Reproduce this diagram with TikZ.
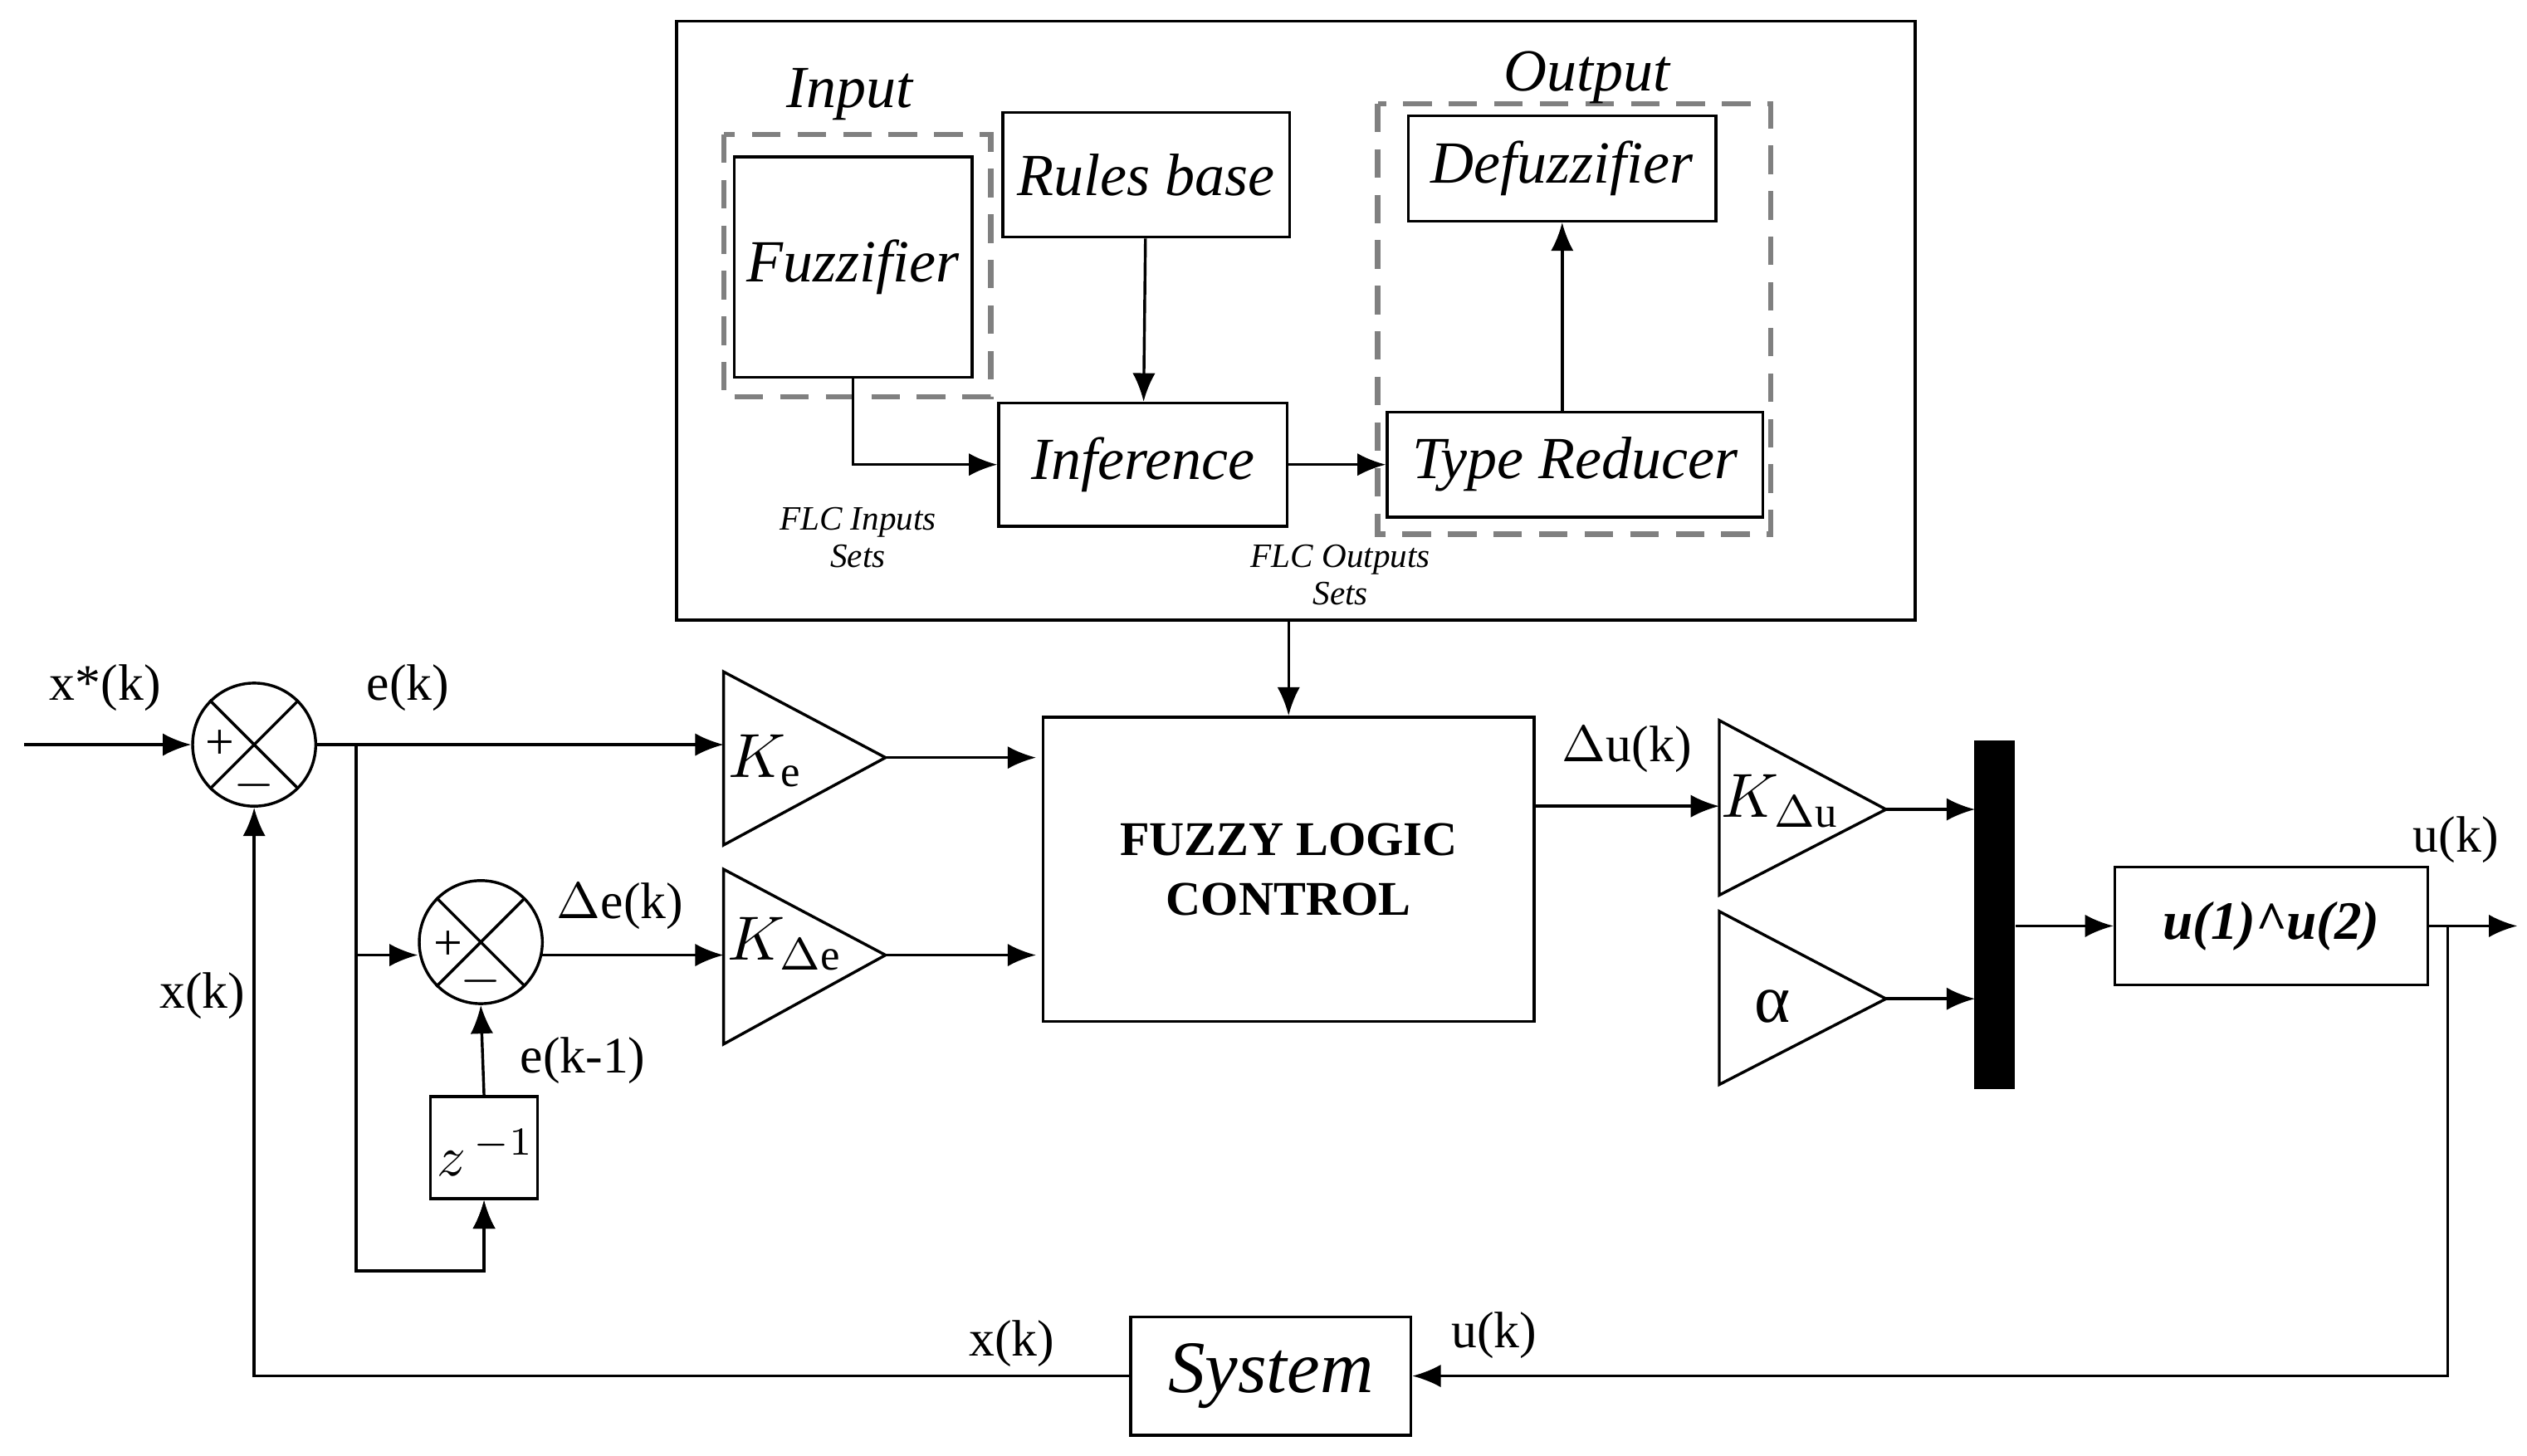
\documentclass[tikz,border=0pt]{standalone}
\usepackage{fontspec}
\setmainfont{Liberation Serif}
\usetikzlibrary{arrows.meta,calc}
\begin{document}
\begin{tikzpicture}[x=0.01cm,y=-0.01cm,>={Latex[length=5pt,width=4pt]},line width=0.5pt]
 \tikzset{blk/.style={draw,inner sep=0pt},
  lbl/.style={font=\fontsize{9}{10}\selectfont},
  itl/.style={font=\fontsize{10.5}{11}\selectfont\itshape},
  tiny/.style={font=\fontsize{6}{6.5}\selectfont\itshape,align=center},
  dsh/.style={draw=gray,dashed,line width=0.9pt,dash pattern=on 5pt off 3pt}}
 \useasboundingbox (0,0) rectangle (1561,899);

  % Fuzzy controller internals
  \draw (418,13) rectangle (1183,383);
  \draw[dsh] (447,83) rectangle (612,245);
  \draw[dsh] (851,64) rectangle (1094,330);
  \node[itl] at (525,58) {Input};
  \node[itl] at (980,48) {Output};
  \node[blk,itl,minimum width=1.47cm,minimum height=1.36cm] (fuz) at (527,165) {Fuzzifier};
  \node[blk,itl,minimum width=1.77cm,minimum height=0.77cm] (rul) at (708,108) {Rules base};
  \node[blk,itl,minimum width=1.78cm,minimum height=0.76cm] (inf) at (706,287) {Inference};
  \node[blk,itl,minimum width=1.90cm,minimum height=0.65cm] (def) at (965,104) {Defuzzifier};
  \node[blk,itl,minimum width=2.32cm,minimum height=0.65cm] (typ) at (973,287) {Type Reducer};
  \draw[->] (fuz.south) |- (inf.west);
  \draw[->] (rul) -- (inf);
  \draw[->] (inf) -- (typ);
  \draw[->] (typ.north -| def) -- (def);
  \node[tiny] at (530,332) {FLC Inputs\\Sets};
  \node[tiny] at (828,355) {FLC Outputs\\Sets};

  % Main loop
  \node[blk,minimum width=3.03cm,minimum height=1.88cm,align=center,font=\fontsize{8.5}{10.5}\selectfont\bfseries] (flc) at (796,537) {FUZZY LOGIC\\CONTROL};
  \draw[->] (796,383) -- (flc.north);

  \node[draw,circle,minimum size=0.76cm] (s1) at (157,460) {};
  \draw (s1.north west) -- (s1.south east) (s1.north east) -- (s1.south west);
  \node[lbl] at (136,460) {+};
  \node[lbl] at (157,485) {$-$};
  \node[draw,circle,minimum size=0.76cm] (s2) at (297,582) {};
  \draw (s2.north west) -- (s2.south east) (s2.north east) -- (s2.south west);
  \node[lbl] at (277,584) {+};
  \node[lbl] at (297,606) {$-$};

  \coordinate (in) at (15,460);
  \draw[->] (in) -- (s1);
  \node[lbl] at (65,425) {x*(k)};
  \node[lbl] at (252,425) {e(k)};

  % gains
  \draw (447,415) coordinate (ke) -- (447,522) -- (547,468) coordinate (keo) -- cycle;
  \draw (447,537) coordinate (kde) -- (447,645) -- (547,590) coordinate (kdeo) -- cycle;
  \draw (1062,445) coordinate (kdu) -- (1062,553) -- (1165,500) coordinate (kduo) -- cycle;
  \draw (1062,563) -- (1062,670) -- (1165,617) coordinate (alo) -- cycle;
  \node[font=\fontsize{11}{11}\selectfont] at (473,470) {$K_{\mathrm{e}}$};
  \node[font=\fontsize{11}{11}\selectfont] at (485,583) {$K_{\Delta\mathrm{e}}$};
  \node[font=\fontsize{11}{11}\selectfont] at (1100,495) {$K_{\Delta\mathrm{u}}$};
  \node[font=\fontsize{12}{12}\selectfont] at (1095,622) {α};

  \draw[->] (s1.east) -- (447,460);
  \draw[->] (keo) -- (640,468);
  \draw[->] (kdeo) -- (640,590);
  \coordinate (br) at (220,460);
  \node[blk,minimum width=0.66cm,minimum height=0.63cm] (zd) at (299,709) {};
  \node[font=\fontsize{10}{10}\selectfont] at (300,712) {$z^{\,-1}$};
  \draw (br) -- (220,785) -| (zd.south) [->];
  \draw[->] (220,785) -| (zd.south);
  \draw[->] (220,590) -- (s2.west |- 0,590);
  \draw[->] (zd.north) -- (s2.south);
  \draw[->] (335,590) -- (447,590);
  \node[lbl] at (383,560) {$\Delta$e(k)};
  \node[lbl] at (360,655) {e(k-1)};

  \draw[->] (flc.east |- 0,498) -- (1062,498);
  \node[lbl] at (1005,463) {$\Delta$u(k)};
  \node[fill,minimum width=0.25cm,minimum height=2.15cm,inner sep=0pt] (mux) at (1232,565) {};
  \draw[->] (kduo) -- (1220,500);
  \draw[->] (alo) -- (1220,617);
  \node[blk,minimum width=1.93cm,minimum height=0.73cm,font=\fontsize{9.5}{10}\selectfont\bfseries\itshape] (pw) at (1403,572) {u(1)\textasciicircum u(2)};
  \draw[->] (1245,572) -- (pw.west);
  \coordinate (out) at (1555,572);
  \draw[->] (pw.east) -- (out);
  \node[lbl] at (1517,519) {u(k)};

  \node[blk,itl,font=\fontsize{13}{13}\selectfont\itshape,minimum width=1.73cm,minimum height=0.73cm] (sys) at (785,850) {System};
  \draw[->] (1512,572) |- (sys.east);
  \draw[->] (sys.west) -| (s1.south);
  \node[lbl] at (923,825) {u(k)};
  \node[lbl] at (625,830) {x(k)};
  \node[lbl] at (125,615) {x(k)};
\end{tikzpicture}
\end{document}
